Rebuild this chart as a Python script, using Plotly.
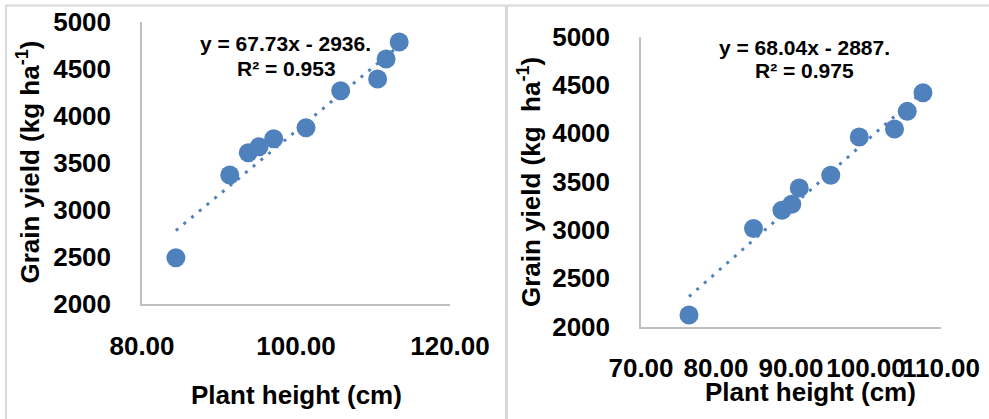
import plotly.graph_objects as go

# Panel A: plant height (cm) vs grain yield (kg/ha)
height_a = [84.4, 91.4, 93.8, 95.2, 97.1, 101.3, 105.8, 110.6, 111.7, 113.4]
yield_a = [2492, 3370, 3607, 3670, 3755, 3872, 4265, 4389, 4602, 4782]
slope_a, intercept_a, r2_a = 67.73, -2936, 0.953

# Panel B
height_b = [76.4, 85.0, 88.8, 90.1, 91.1, 95.3, 99.1, 103.8, 105.5, 107.6]
yield_b = [2121, 3015, 3204, 3266, 3435, 3566, 3961, 4044, 4226, 4419]
slope_b, intercept_b, r2_b = 68.04, -2887, 0.975

y_ticks = [2000, 2500, 3000, 3500, 4000, 4500, 5000]
x_ticks_a = [80, 100, 120]
x_ticks_b = [70, 80, 90, 100, 110]

W, H = 989, 419
BLUE = "#4F81BD"
GRAY = "#D9D9D9"
FONT = "Liberation Sans, Arial, sans-serif"


def px(x):
    return x / W


def py(y):
    return 1 - y / H


fig = go.Figure()


def add_panel(xs, ys, slope, intercept, xa, ya):
    x0, x1 = min(xs), max(xs)
    fig.add_trace(go.Scatter(
        x=[x0, x1], y=[slope * x0 + intercept, slope * x1 + intercept],
        mode="lines", line=dict(color=BLUE, width=3, dash="3px,7px"),
        xaxis=xa, yaxis=ya, showlegend=False, hoverinfo="skip"))
    fig.add_trace(go.Scatter(
        x=xs, y=ys, mode="markers",
        marker=dict(color=BLUE, size=19, line=dict(width=0)),
        xaxis=xa, yaxis=ya, showlegend=False))


add_panel(height_a, yield_a, slope_a, intercept_a, "x", "y")
add_panel(height_b, yield_b, slope_b, intercept_b, "x2", "y2")

tick_font = dict(family=FONT, size=26, color="black", weight="bold")
axis_common = dict(showgrid=False, zeroline=False, showline=True,
                   linecolor="#BFBFBF", linewidth=1.5, ticks="",
                   tickfont=tick_font, tickangle=0, automargin=False)

fig.update_layout(
    width=W, height=H,
    margin=dict(l=0, r=0, t=0, b=0),
    paper_bgcolor="white", plot_bgcolor="white",
    xaxis=dict(domain=[px(142), px(450)], range=[80, 120], tickvals=x_ticks_a,
               tickformat=".2f", anchor="y", ticklabelstandoff=18, **axis_common),
    yaxis=dict(domain=[py(304), py(21.5)], range=[2000, 5000], tickvals=y_ticks,
               anchor="x", ticklabelstandoff=24, **axis_common),
    xaxis2=dict(domain=[px(641), px(941)], range=[70, 110], tickvals=x_ticks_b,
                tickformat=".2f", anchor="y2", ticklabelstandoff=17, **axis_common),
    yaxis2=dict(domain=[py(326.7), py(36.5)], range=[2000, 5000], tickvals=y_ticks,
                anchor="x2", ticklabelstandoff=24, **axis_common),
)

title_font = dict(family=FONT, size=26, color="black", weight="bold")
eq_font = dict(family=FONT, size=21, color="black", weight="bold")


def label(text, x, y, font, angle=0):
    fig.add_annotation(text=text, x=px(x), y=py(y), xref="paper", yref="paper",
                       xanchor="center", yanchor="middle", showarrow=False,
                       font=font, textangle=angle)


label("Plant height (cm)", 296, 395, title_font)
label("Plant height (cm)", 810, 392, title_font)
label("Grain yield (kg ha<sup>-1</sup>)", 29, 162.5, title_font, -90)
label("Grain yield (kg  ha<sup>-1</sup>)", 529, 182, title_font, -90)

label(f"y = {slope_a:.2f}x - {abs(intercept_a)}.", 285, 43, eq_font)
label(f"R² = {r2_a:.3f}", 286, 68, eq_font)
label(f"y = {slope_b:.2f}x - {abs(intercept_b)}.", 804, 47, eq_font)
label(f"R² = {r2_b:.3f}", 804, 70, eq_font)

# Light gray chart-area frames
def frame_line(x0, y0, x1, y1, w):
    fig.add_shape(type="line", xref="paper", yref="paper",
                  x0=x0, y0=y0, x1=x1, y1=y1, line=dict(color=GRAY, width=w))


frame_line(px(5), py(5.5), 1, py(5.5), 2)
frame_line(px(6), py(5), px(6), 0, 2)
frame_line(px(506.5), py(5), px(506.5), 0, 3)

fig.write_html("out.html")
